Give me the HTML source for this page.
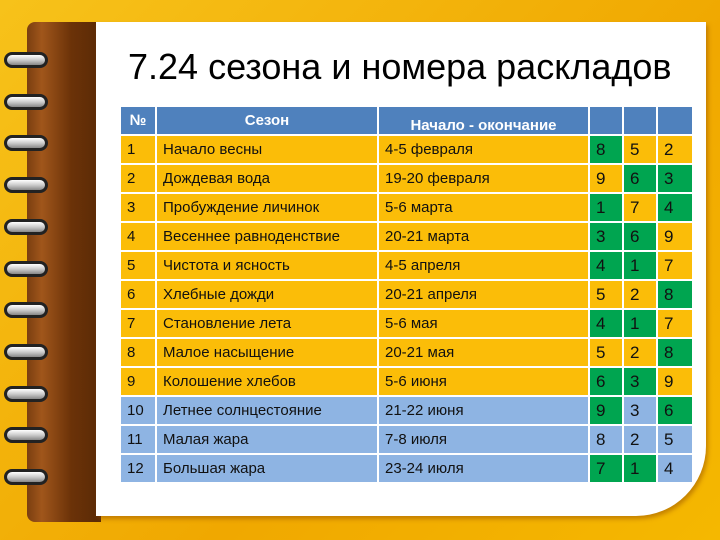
<!DOCTYPE html>
<html><head><meta charset="utf-8"><style>
body{margin:0;width:720px;height:540px;overflow:hidden;position:relative;font-family:"Liberation Sans","DejaVu Sans",sans-serif;background:linear-gradient(135deg,#f7c21a,#f0a800 60%,#f5b800);}
.page{position:absolute;left:96px;top:22px;width:610px;height:494px;background:#fff;border-bottom-right-radius:70px;box-shadow:2px 3px 4px rgba(150,80,0,.5);}
.spine{position:absolute;left:27px;top:22px;width:74px;height:500px;background:linear-gradient(90deg,#7a3e10,#a0561b 20%,#6b3208 60%,#5a2a06);border-radius:8px 0 0 8px;}
.ring{position:absolute;left:4px;width:44px;height:16px;border-radius:8px;background:linear-gradient(180deg,#fff,#ccc 50%,#888);border:3px solid #222;box-sizing:border-box;}
h1{position:absolute;left:128px;top:46px;margin:0;font-weight:normal;font-size:36px;color:#000;white-space:nowrap;}
table{position:absolute;left:119px;top:105px;border-collapse:collapse;font-size:15px;}
td{border:2px solid #fff;padding:0 0 0 6px;height:27px;color:#111;}
tr.h td{background:#4f81bd;color:#fff;font-weight:bold;text-align:center;padding:0;}
tr.y td{background:#fbbd08;}
tr.b td{background:#8eb4e3;}
td.g{background:#00a550 !important;}
td.n{text-align:left;padding-left:6px;font-size:17px;}
</style></head><body>
<div class="spine"></div>
<div class="page"></div>
<div id="rings"></div>
<h1>7.24 сезона и номера раскладов</h1>
<table>
<colgroup><col style="width:36px"><col style="width:222px"><col style="width:211px"><col style="width:34px"><col style="width:34px"><col style="width:36px"></colgroup>
<tr class="h"><td>№</td><td>Сезон</td><td style="vertical-align:bottom">Начало - окончание</td><td></td><td></td><td></td></tr>
<tr class="y"><td>1</td><td>Начало весны</td><td>4-5 февраля</td><td class="n g">8</td><td class="n">5</td><td class="n">2</td></tr>
<tr class="y"><td>2</td><td>Дождевая вода</td><td>19-20 февраля</td><td class="n">9</td><td class="n g">6</td><td class="n g">3</td></tr>
<tr class="y"><td>3</td><td>Пробуждение личинок</td><td>5-6 марта</td><td class="n g">1</td><td class="n">7</td><td class="n g">4</td></tr>
<tr class="y"><td>4</td><td>Весеннее равноденствие</td><td>20-21 марта</td><td class="n g">3</td><td class="n g">6</td><td class="n">9</td></tr>
<tr class="y"><td>5</td><td>Чистота и ясность</td><td>4-5 апреля</td><td class="n g">4</td><td class="n g">1</td><td class="n">7</td></tr>
<tr class="y"><td>6</td><td>Хлебные дожди</td><td>20-21 апреля</td><td class="n">5</td><td class="n">2</td><td class="n g">8</td></tr>
<tr class="y"><td>7</td><td>Становление лета</td><td>5-6 мая</td><td class="n g">4</td><td class="n g">1</td><td class="n">7</td></tr>
<tr class="y"><td>8</td><td>Малое насыщение</td><td>20-21 мая</td><td class="n">5</td><td class="n">2</td><td class="n g">8</td></tr>
<tr class="y"><td>9</td><td>Колошение хлебов</td><td>5-6 июня</td><td class="n g">6</td><td class="n g">3</td><td class="n">9</td></tr>
<tr class="b"><td>10</td><td>Летнее солнцестояние</td><td>21-22 июня</td><td class="n g">9</td><td class="n">3</td><td class="n g">6</td></tr>
<tr class="b"><td>11</td><td>Малая жара</td><td>7-8 июля</td><td class="n">8</td><td class="n">2</td><td class="n">5</td></tr>
<tr class="b"><td>12</td><td>Большая жара</td><td>23-24 июля</td><td class="n g">7</td><td class="n g">1</td><td class="n">4</td></tr>
</table>
<script>
var c=document.getElementById('rings');
for(var i=0;i<11;i++){var r=document.createElement('div');r.className='ring';r.style.top=(52+i*41.7)+'px';


c.appendChild(r);}
</script>
</body></html>
